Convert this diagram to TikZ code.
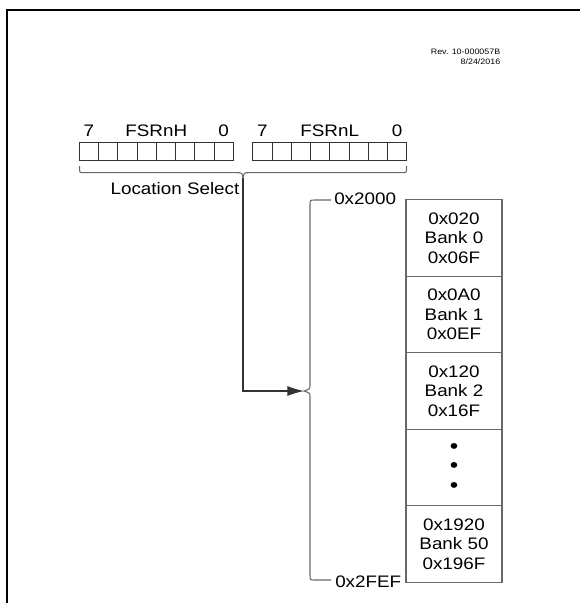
\documentclass[tikz,border=0pt]{standalone}
\usepackage{fontspec}
\setmainfont{Liberation Sans}[FakeStretch=1.13]
\usetikzlibrary{positioning,arrows.meta,calc}
\definecolor{lineGray}{RGB}{105,105,105}
\tikzset{node distance=0pt,
  lbl/.style={inner sep=0pt, font=\fontsize{12.5}{14.6}\selectfont},
  rev/.style={inner sep=0pt, align=right, font=\fontsize{5.9}{7.5}\selectfont},
  bit/.style={draw=black!80, line width=0.6pt, minimum width=14.44pt, minimum height=14pt, inner sep=0pt, outer sep=0pt},
  bank/.style={draw=lineGray, line width=0.8pt, minimum width=72pt, minimum height=57.45pt, inner sep=0pt, outer sep=0pt, align=center, font=\fontsize{12.5}{14.6}\selectfont},
  brace/.style={draw=lineGray, line width=0.8pt},
  frame/.style={draw=black, line width=1.6pt}}

\begin{document}
\begin{tikzpicture}[x=0.75pt, y=-0.75pt]
				\useasboundingbox (0,0) rectangle (580,603);
				\draw[frame] (7,603) -- (7,10) -- (580,10);

				\node[rev, anchor=east] (rev) at (500.5,57) {Rev. 10-000057B\\8/24/2016};

				% FSRnH and FSRnL registers
				\foreach \i in {0,...,7} {
					\node[bit] (h\i) at (88.9+19.25*\i, 151.3) {};
					\node[bit] (l\i) at (262.3+19.25*\i, 151.3) {};
				}
				\node[lbl, above=3.75pt of h0] (hHi) {7};
				\node[lbl, above=3.75pt of h7] (hLo) {0};
				\node[lbl, above=3.75pt] (hName) at ($(h0.north)!.5!(h7.north)$) {FSRnH};
				\node[lbl, above=3.75pt of l0] (lHi) {7};
				\node[lbl, above=3.75pt of l7] (lLo) {0};
				\node[lbl, above=3.75pt] (lName) at ($(l0.north)!.5!(l7.north)$) {FSRnL};

				\draw[brace] (79.5,166) -- (79.5,168) .. controls (79.5,172.7) .. (84,172.7) -- (237,172.7)
					.. controls (242,172.7) .. (243,178) coordinate (selTip)
					.. controls (244,172.7) .. (249,172.7) -- (402,172.7)
					.. controls (406.5,172.7) .. (406.5,168) -- (406.5,166);
				\node[lbl] (locSel) at (175,189) {Location Select};

				% memory banks
				\node[bank] (b0) at (454,237.8) {0x020\\Bank 0\\0x06F};
				\node[bank] (b1) [below=of b0] {0x0A0\\Bank 1\\0x0EF};
				\node[bank] (b2) [below=of b1] {0x120\\Bank 2\\0x16F};
				\node[bank, font=\fontsize{16}{14.6}\selectfont] (b3) [below=of b2] {•\\•\\•};
				\node[bank] (b4) [below=of b3] {0x1920\\Bank 50\\0x196F};

				\draw[brace] (331,200) -- (315,200) .. controls (310,200) .. (310,205) -- (310,385)
					.. controls (310,389) .. (304,391) coordinate (bankTip)
					.. controls (310,393) .. (310,397) -- (310,575)
					.. controls (310,580) .. (315,580) -- (331,580);
				\node[lbl, anchor=west] (addrLo) at (334,199) {0x2000};
				\node[lbl, anchor=west] (addrHi) at (335,581.5) {0x2FEF};

				\draw[brace, draw=black!80, -{Latex[length=12.5pt,width=7.5pt]}] (selTip) |- (bankTip);
			\end{tikzpicture}
\end{document}
